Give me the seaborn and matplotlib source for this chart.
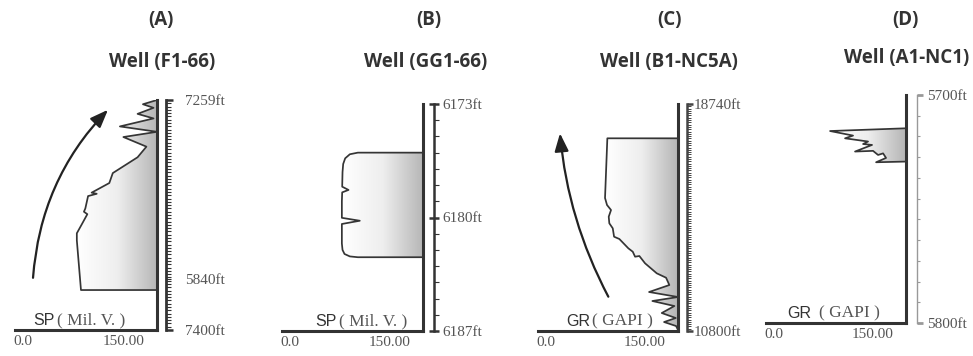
import numpy as np
import matplotlib
matplotlib.use("Agg")
import matplotlib.pyplot as plt
from matplotlib.colors import LinearSegmentedColormap
from matplotlib.ticker import FixedLocator
import seaborn as sns

# ---------------- data ----------------
panel_letters = ["(A)", "(B)", "(C)", "(D)"]
well_names = ["Well (F1-66)", "Well (GG1-66)", "Well (B1-NC5A)", "Well (A1-NC1)"]
log_names = ["SP", "SP", "GR", "GR"]
log_units = ["( Mil. V. )", "( Mil. V. )", "( GAPI )", "( GAPI )"]
x_tick_values = [0, 150]
x_tick_labels = ["0.0", "150.00"]
x_range = [-12, 200]
baseline_value = 200

# Well F1-66 (SP)
A_value = [200, 179, 194.8, 171, 194.8, 144.6, 200, 149.8, 184.2, 171, 134, 128.8,
           102.4, 110, 97.1, 93, 90.9, 96, 87.6, 80.3, 80.3, 86.5, 200]
A_depth = [7259, 7261.6, 7263.8, 7267.5, 7270.3, 7275.2, 7278.5, 7281.7, 7287.6, 7294.1,
           7303.8, 7309.9, 7315.8, 7316.5, 7317.9, 7325.5, 7327.5, 7329, 7335.3, 7340.7,
           7345, 7375.5, 7375.5]
A_scale = [7259, 7400]
A_label_depths = [7259, 7369, 7400]
A_label_texts = ["7259ft", "5840ft", "7400ft"]

# Well GG1-66 (SP)
B_value = [200, 102, 90, 83, 80, 79, 78.5, 88, 78.5, 78, 78, 105, 78, 78, 79, 82, 90, 102, 200]
B_depth = [6176.0, 6176.0, 6176.1, 6176.35, 6176.7, 6177.2, 6178.1, 6178.3, 6178.45,
           6179.0, 6180.02, 6180.2, 6180.4, 6181.6, 6182.0, 6182.25, 6182.4, 6182.45, 6182.45]
B_scale = [6173, 6187]
B_label_depths = [6173, 6180, 6187]
B_label_texts = ["6173ft", "6180ft", "6187ft"]

# Well B1-NC5A (GR)
C_value = [200, 93, 89.5, 92.5, 98.6, 95.1, 96, 101.2, 103.2, 111.2, 124.8, 131.5, 135,
           141.5, 150.1, 167.8, 181.9, 186.9, 156.2, 200, 161.2, 194.5, 175.4, 196.6,
           178.9, 197.1, 200]
C_depth = [17540, 17540, 15452, 15207, 15032, 14798, 14567, 14392, 14098, 14018, 13692,
           13573, 13399, 13423, 13168, 12818, 12664, 12408, 12164, 11989, 11849, 11674,
           11429, 11254, 11114, 10974, 10835]
C_scale = [18740, 10800]
C_label_depths = [18740, 10800]
C_label_texts = ["18740ft", "10800ft"]

# Well A1-NC1 (GR)
D_value = [200, 85, 119.8, 107.7, 142.5, 135, 148.6, 122.8, 150.1, 157.7, 165.3, 169.8,
           154.7, 200]
D_depth = [5714.6, 5715.8, 5717.8, 5719, 5720.4, 5721.5, 5721.9, 5724.8, 5724.5, 5726.3,
           5725.6, 5727.6, 5729.5, 5729.2]
D_scale = [5700, 5800]
D_label_depths = [5700, 5800]
D_label_texts = ["5700ft", "5800ft"]

# trend arrows (tail, head) for wells A and C
A_arrow = [(14.9, 7368), (126.8, 7265)]
C_arrow = [(94.5, 12000), (21.3, 17715)]

# ---------------- style / layout ----------------
sns.set_theme(style="white")
plt.rcParams["font.family"] = ["Liberation Serif", "DejaVu Serif"]

W, H = 973, 356
fig = plt.figure(figsize=(W / 100, H / 100), dpi=100)
fig.patch.set_facecolor("white")

panels = [
    dict(v=A_value, d=A_depth, scale=A_scale, ld=A_label_depths, lt=A_label_texts,
         minor=np.linspace(A_scale[0], A_scale[1], 71), arrow=A_arrow, rad=-0.18),
    dict(v=B_value, d=B_depth, scale=B_scale, ld=B_label_depths, lt=B_label_texts,
         minor=np.linspace(B_scale[0], B_scale[1], 15), arrow=None, rad=0),
    dict(v=C_value, d=C_depth, scale=C_scale, ld=C_label_depths, lt=C_label_texts,
         minor=np.linspace(C_scale[1], C_scale[0], 100), arrow=C_arrow, rad=-0.1),
    dict(v=D_value, d=D_depth, scale=D_scale, ld=D_label_depths, lt=D_label_texts,
         minor=np.linspace(D_scale[0], D_scale[1], 12), arrow=None, rad=0),
]

# box = (left, right, top, bottom) in pixels
layout = [
    dict(box=(15, 157, 100, 330), off=9, sc_color="#333333", sc_lw=2.0, mn_len=3.6, mn_w=0.8,
         mj_len=5, mj_w=1.8, mj_dir="out", pad=8.5, name_r=40, unit_l=42,
         letter=(161, 20), title=(162, 62), small_inner=True),
    dict(box=(282, 423, 104, 331), off=11, sc_color="#333333", sc_lw=1.8, mn_len=3.6, mn_w=0.8,
         mj_len=7, mj_w=1.8, mj_dir="inout", pad=2.5, name_r=55, unit_l=57,
         letter=(429, 20), title=(426, 62), small_inner=False),
    dict(box=(538, 678, 104, 331), off=9, sc_color="#444444", sc_lw=1.8, mn_len=3.0, mn_w=0.7,
         mj_len=4, mj_w=1.8, mj_dir="out", pad=0.8, name_r=52, unit_l=54,
         letter=(670, 20), title=(669, 62), small_inner=False),
    dict(box=(766, 906, 95, 323), off=11, sc_color="#999999", sc_lw=1.0, mn_len=2.5, mn_w=0.8,
         mj_len=4, mj_w=2.0, mj_dir="out", pad=3.5, name_r=45, unit_l=53,
         letter=(905, 20), title=(907, 58), small_inner=False),
]

cmap = LinearSegmentedColormap.from_list("fillgrad", ["#ffffff", "#eeeeee", "#b5b5b5"])
grad = np.linspace(0, 1, 256).reshape(1, -1)

for i, (p, lay) in enumerate(zip(panels, layout)):
    l, r, t, b = lay["box"]
    ax = fig.add_axes([l / W, 1 - b / H, (r - l) / W, (b - t) / H])
    ax.set_facecolor("none")

    # fill with horizontal gradient clipped to the log shape
    poly = ax.fill_betweenx(p["d"], p["v"], baseline_value, facecolor="none",
                            edgecolor="none", zorder=1)
    dmin, dmax = min(p["d"]), max(p["d"])
    im = ax.imshow(grad, extent=[min(p["v"]), baseline_value, dmin, dmax],
                   aspect="auto", cmap=cmap, origin="lower", zorder=1,
                   interpolation="bilinear")
    im.set_clip_path(poly.get_paths()[0], transform=ax.transData)

    sns.lineplot(x=p["v"], y=p["d"], sort=False, estimator=None, ax=ax,
                 color="#353535", lw=1.25, zorder=3)

    ax.set_xlim(*x_range)
    ax.set_ylim(p["scale"][1], p["scale"][0])
    ax.set_aspect("auto")

    for s in ["left", "top"]:
        ax.spines[s].set_visible(False)
    for s in ["bottom", "right"]:
        ax.spines[s].set_visible(True)
        ax.spines[s].set_color("#333333")
        ax.spines[s].set_linewidth(2.2)
        ax.spines[s].set_capstyle("projecting")
    ax.set_yticks([])
    ax.set_xticks(x_tick_values, labels=x_tick_labels)
    ax.tick_params(axis="x", length=0, pad=3.5, labelsize=11, labelcolor="#555555")
    ax.set_xlabel("")
    ax.set_ylabel("")

    # log name + units
    ww = r - l
    ax.text(lay["name_r"] / ww, 0.008, log_names[i], transform=ax.transAxes,
            ha="right", va="bottom", fontsize=11.5, color="#333333",
            family=["Liberation Sans", "DejaVu Sans"])
    ax.text(lay["unit_l"] / ww, 0.008, log_units[i], transform=ax.transAxes,
            ha="left", va="bottom", fontsize=12.5, color="#555555")

    # depth scale
    sec = ax.secondary_yaxis(1 + lay["off"] / ww)
    sec.spines["right"].set_color(lay["sc_color"])
    sec.spines["right"].set_linewidth(lay["sc_lw"])
    sec.set_yticks(p["ld"], labels=p["lt"])
    sec.yaxis.set_minor_locator(FixedLocator(p["minor"]))
    sec.tick_params(axis="y", which="minor", length=lay["mn_len"], width=lay["mn_w"],
                    color=lay["sc_color"], direction="out")
    sec.tick_params(axis="y", which="major", length=lay["mj_len"], width=lay["mj_w"],
                    color=lay["sc_color"], direction=lay["mj_dir"], pad=lay["pad"],
                    labelsize=11, labelcolor="#555555")
    if lay["small_inner"]:
        mticks = sec.yaxis.get_major_ticks(len(p["ld"]))
        for tk in mticks[1:-1]:
            tk.tick2line.set_markersize(lay["mn_len"])
            tk.tick2line.set_markeredgewidth(lay["mn_w"])

    # trend arrow
    if p["arrow"] is not None:
        (x0, y0), (x1, y1) = p["arrow"]
        ax.annotate("", xy=(x1, y1), xytext=(x0, y0),
                    arrowprops=dict(arrowstyle="-|>,head_length=0.9,head_width=0.35",
                                    color="#222222", lw=1.6, shrinkA=0, shrinkB=0,
                                    connectionstyle=f"arc3,rad={p['rad']}"),
                    zorder=4)

    # titles
    lx, ly = lay["letter"]
    fig.text(lx / W, 1 - ly / H, panel_letters[i], ha="center", va="center",
             fontsize=13.5, fontweight="bold", color="#333333",
             family=["Open Sans", "DejaVu Sans"])
    tx, ty = lay["title"]
    fig.text(tx / W, 1 - ty / H, well_names[i], ha="center", va="center",
             fontsize=13.5, fontweight="bold", color="#333333",
             family=["Open Sans", "DejaVu Sans"])

fig.savefig("out.png", dpi=100, facecolor="white")
